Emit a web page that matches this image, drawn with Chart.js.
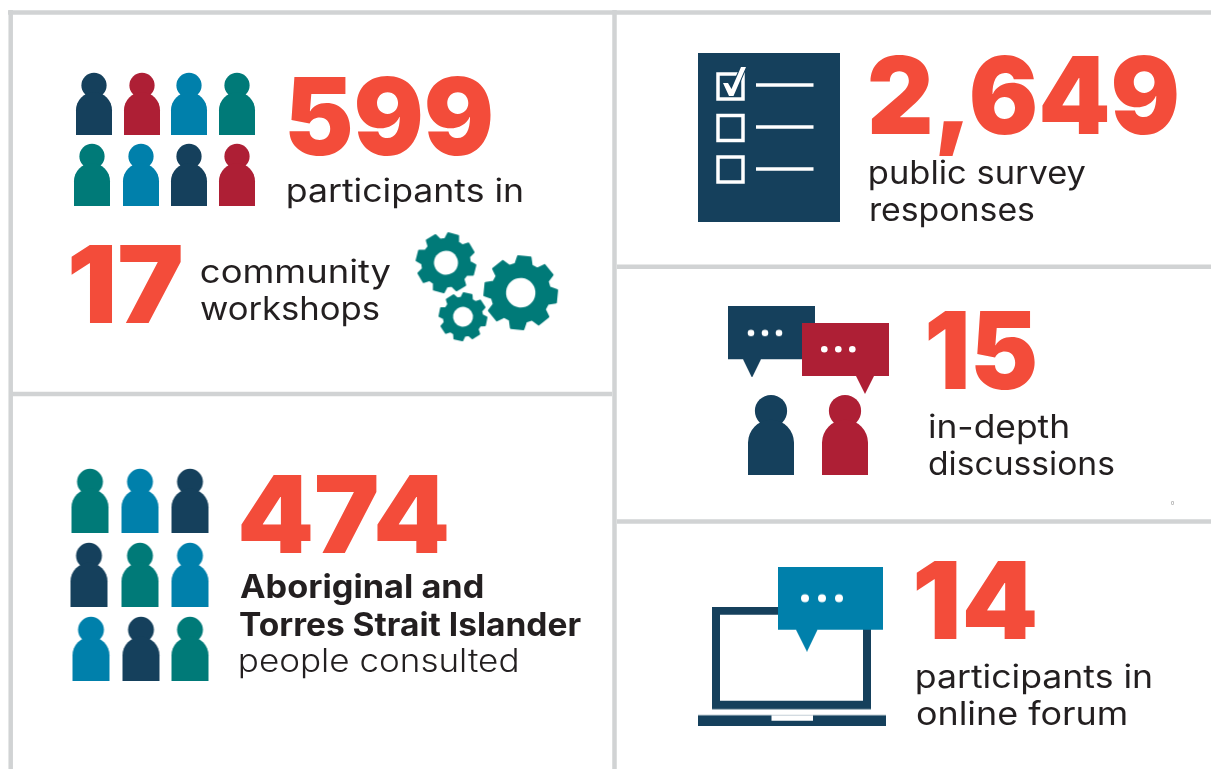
<!DOCTYPE html>
<html>
<head>
<meta charset="utf-8">
<title>Consultation numbers</title>
<script src="https://cdn.jsdelivr.net/npm/chart.js@4"></script>
<style>
    html, body { margin: 0; padding: 0; background: #fff; overflow: hidden; }
    canvas { display: block; }
</style>
</head>
<body>
<canvas id="chart" width="1211" height="769"></canvas>
<script>
/* Values and captions */
const statValues = [599, 17, 474, 2649, 15, 14];
const statCaptions = [
    ["participants in"],
    ["community", "workshops"],
    ["Aboriginal and", "Torres Strait Islander", "people consulted"],
    ["public survey", "responses"],
    ["in-depth", "discussions"],
    ["participants in", "online forum"]
];
const strayMark = "0";

/* Colours */
const NAVY = "#15405c";
const RED = "#ae1f35";
const BLUE = "#0080ab";
const TEAL = "#007a78";
const ORANGE = "#f34c3a";
const INK = "#231f20";
const RULE = "#d1d3d4";

/* People rows, one colour letter per figure */
const colourOf = { n: NAVY, r: RED, b: BLUE, t: TEAL };
const workshopPeople = ["nrbt", "tbnr"];
const aboriginalPeople = ["tbn", "ntb", "bnt"];

/* Layout, in picture pixels: the x and y scales run 0-1211 and 0-769 */
const ruleLines = [
    [[8, 12.5], [1211, 12.5]],
    [[10.7, 10], [10.7, 769]],
    [[614.5, 10], [614.5, 769]],
    [[10, 394], [612, 394]],
    [[617, 266.7], [1211, 266.7]],
    [[617, 521.5], [1211, 521.5]]
];
const workshopX = [[94, 142, 189, 237], [92, 141, 189, 237]];
const workshopY = [104, 175];
const aboriginalX = [[90, 140, 190], [89, 140, 190], [91, 141, 190]];
const aboriginalY = [501, 575, 649];

// x0, x1 (ink edges), baseline, font size
const valueBoxes = [
    [289, 491, 155, 107],
    [71, 181, 323, 107],
    [241, 447, 553, 107],
    [870, 1177, 134, 107],
    [928, 1035, 389, 107],
    [916, 1035, 639, 107]
];
const captionBoxes = [
    [[288, 522, 202]],
    [[201, 391, 283], [201, 379, 320]],
    [[240, 483, 598], [240, 581, 636], [240, 517, 672]],
    [[870, 1086, 184], [871, 1034, 221]],
    [[929, 1068, 438], [929, 1114, 475]],
    [[917, 1151, 688], [917, 1126, 725]]
];

/* Icon canvases, used as point styles */
function makeIcon(w, h, paint) {
    const c = document.createElement("canvas");
    c.width = w;
    c.height = h;
    paint(c.getContext("2d"), w, h);
    return c;
}

function person(colour, w, h) {
    return makeIcon(w + 2, h + 2, (ctx) => {
        ctx.translate(1, 1);
        ctx.fillStyle = colour;
        const bodyTop = h * 0.31;
        ctx.beginPath();
        ctx.arc(w / 2, h * 0.2, w * 0.35, 0, Math.PI * 2);
        ctx.fill();
        ctx.beginPath();
        ctx.moveTo(0, h);
        ctx.lineTo(0, bodyTop + w / 2);
        ctx.arc(w / 2, bodyTop + w / 2, w / 2, Math.PI, 0);
        ctx.lineTo(w, h);
        ctx.closePath();
        ctx.fill();
    });
}

function gear(outer, hole, rotation) {
    const size = Math.ceil(outer * 2 + 4);
    const teeth = 8;
    return makeIcon(size, size, (ctx) => {
        ctx.translate(size / 2, size / 2);
        ctx.rotate(rotation);
        ctx.fillStyle = TEAL;
        ctx.strokeStyle = TEAL;
        ctx.lineJoin = "round";
        ctx.lineWidth = 2;
        ctx.beginPath();
        const root = outer * 0.78;
        const tip = outer - 1;
        const step = Math.PI * 2 / teeth;
        for (let i = 0; i < teeth; i++) {
            const a = i * step;
            const pts = [
                [root, a - step * 0.36],
                [tip, a - step * 0.22],
                [tip, a + step * 0.22],
                [root, a + step * 0.36]
            ];
            for (const [r, t] of pts) {
                ctx.lineTo(Math.cos(t) * r, Math.sin(t) * r);
            }
        }
        ctx.closePath();
        ctx.stroke();
        ctx.fill();
        ctx.fillStyle = "#fff";
        ctx.beginPath();
        ctx.arc(0, 0, hole, 0, Math.PI * 2);
        ctx.fill();
    });
}

function bubble(colour, w, h, tailL, tailR, tipX, tipY, dotXs, dotY, dotR) {
    return makeIcon(w, tipY, (ctx) => {
        ctx.fillStyle = colour;
        ctx.beginPath();
        ctx.moveTo(0, 0);
        ctx.lineTo(w, 0);
        ctx.lineTo(w, h);
        ctx.lineTo(tailR, h);
        ctx.lineTo(tipX, tipY);
        ctx.lineTo(tailL, h);
        ctx.lineTo(0, h);
        ctx.closePath();
        ctx.fill();
        ctx.fillStyle = "#fff";
        for (const x of dotXs) {
            ctx.beginPath();
            ctx.arc(x, dotY, dotR, 0, Math.PI * 2);
            ctx.fill();
        }
    });
}

const checklist = makeIcon(142, 169, (ctx) => {
    ctx.fillStyle = NAVY;
    ctx.fillRect(0, 0, 142, 169);
    ctx.strokeStyle = "#fff";
    ctx.fillStyle = "#fff";
    ctx.lineWidth = 3.5;
    for (const y of [21, 62.5, 104]) {
        ctx.strokeRect(20, y, 25, 25);
    }
    for (const y of [32, 74, 116]) {
        ctx.fillRect(58, y - 1.75, 57.5, 3.5);
    }
    // tick, with a navy edge where it cuts the box
    ctx.beginPath();
    ctx.moveTo(25, 30);
    ctx.lineTo(30, 30);
    ctx.lineTo(33.5, 36);
    ctx.lineTo(43, 14);
    ctx.lineTo(48, 14);
    ctx.lineTo(35.5, 43);
    ctx.lineTo(31, 43);
    ctx.closePath();
    ctx.strokeStyle = NAVY;
    ctx.lineWidth = 2;
    ctx.stroke();
    ctx.fill();
});

const laptop = makeIcon(188, 119, (ctx) => {
    ctx.fillStyle = NAVY;
    ctx.fillRect(14, 0, 159, 102.5);
    ctx.fillStyle = "#fff";
    ctx.fillRect(22, 8, 143, 86);
    ctx.fillStyle = NAVY;
    ctx.fillRect(0, 108.5, 188, 10.5);
    ctx.fillStyle = "#fff";
    ctx.fillRect(73.5, 108.5, 41.5, 5.5);
});

const gearBig = gear(37.5, 14.7, 0.1);
const gearMid = gear(30.5, 12, 0.25);
const gearSmall = gear(24.5, 10, 0.2);

const bubbleNavy = bubble(NAVY, 87, 53, 15, 33, 24, 71.5, [23, 37, 51], 26.7, 3.3);
const bubbleRed = bubble(RED, 87, 53, 54, 72, 63, 71, [22.3, 36.3, 50.3], 26.3, 3.3);
const bubbleBlue = bubble(BLUE, 105, 63, 18, 39.5, 29, 85, [27, 44, 61], 31.5, 4);

/* Build the icon points: picture order, later points paint over earlier ones */
const iconPoints = [];
const iconStyles = [];

function addIcon(x, y, style) {
    iconPoints.push({ x: x, y: y });
    iconStyles.push(style);
}

function addPeople(rows, xs, ys, w, h) {
    rows.forEach((row, r) => {
        row.split("").forEach((letter, i) => {
            addIcon(xs[r][i], ys[r], person(colourOf[letter], w, h));
        });
    });
}

addPeople(workshopPeople, workshopX, workshopY, 36, 62);
addPeople(aboriginalPeople, aboriginalX, aboriginalY, 37, 64);

addIcon(520.7, 292.7, gearBig);
addIcon(446, 262.7, gearMid);
addIcon(463, 316.7, gearSmall);

addIcon(769, 137.5, checklist);

addIcon(771.5, 341.7, bubbleNavy);
addIcon(845.5, 358.5, bubbleRed);
addIcon(771, 435, person(NAVY, 46, 80));
addIcon(845, 435, person(RED, 46, 80));

addIcon(792, 666.2, laptop);
addIcon(830.5, 609.2, bubbleBlue);

/* Text goes through the same scales as the marks */
function fitText(chart, text, box, font, colour) {
    const ctx = chart.ctx;
    const sx = chart.scales.x;
    const sy = chart.scales.y;
    const x0 = sx.getPixelForValue(box[0]);
    const x1 = sx.getPixelForValue(box[1]);
    const y = sy.getPixelForValue(box[2]);
    ctx.save();
    ctx.font = font;
    ctx.fillStyle = colour;
    ctx.textAlign = "left";
    ctx.textBaseline = "alphabetic";
    const m = ctx.measureText(text);
    const inkW = m.actualBoundingBoxRight + m.actualBoundingBoxLeft;
    const k = (x1 - x0) / inkW;
    ctx.translate(x0 + m.actualBoundingBoxLeft * k, y);
    ctx.scale(k, 1);
    ctx.fillText(text, 0, 0);
    ctx.restore();
}

const statText = {
    id: "statText",
    afterDatasetsDraw(chart) {
        statValues.forEach((v, i) => {
            const b = valueBoxes[i];
            fitText(chart, v.toLocaleString("en-US"), b, "900 " + b[3] + "px Inter", ORANGE);
        });
        statCaptions.forEach((lines, i) => {
            lines.forEach((line, j) => {
                let weight = "400";
                if (i === 2) weight = j < 2 ? "700" : "300";
                fitText(chart, line, captionBoxes[i][j], weight + " 32px Inter", INK);
            });
        });
        const ctx = chart.ctx;
        ctx.save();
        ctx.font = "5px Inter";
        ctx.fillStyle = "#777";
        ctx.textAlign = "center";
        ctx.fillText(strayMark, chart.scales.x.getPixelForValue(1172.7), chart.scales.y.getPixelForValue(505));
        ctx.restore();
    }
};

const datasets = [{
    data: iconPoints,
    pointStyle: iconStyles,
    pointRadius: 1,
    showLine: false
}];
for (const line of ruleLines) {
    datasets.push({
        data: line.map(p => ({ x: p[0], y: p[1] })),
        showLine: true,
        borderColor: RULE,
        borderWidth: 4.5,
        pointRadius: 0
    });
}

new Chart(document.getElementById("chart"), {
    type: "scatter",
    data: { datasets: datasets },
    options: {
        responsive: false,
        animation: false,
        events: [],
        layout: { padding: 0, autoPadding: false },
        plugins: { legend: { display: false }, tooltip: { enabled: false } },
        scales: {
            x: { type: "linear", min: 0, max: 1211, display: false },
            y: { type: "linear", min: 0, max: 769, reverse: true, display: false }
        }
    },
    plugins: [statText]
});
</script>
</body>
</html>
